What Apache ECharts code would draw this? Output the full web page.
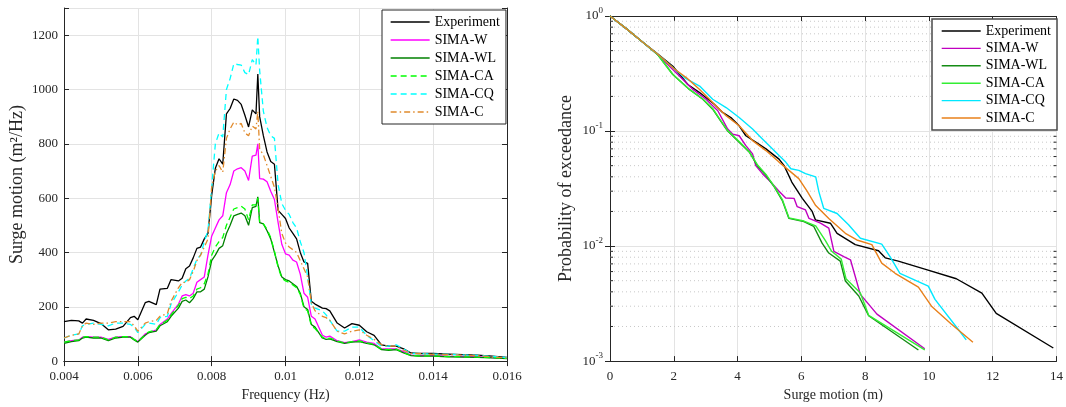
<!DOCTYPE html>
<html>
<head>
<meta charset="utf-8">
<script src="https://cdn.jsdelivr.net/npm/echarts@6/dist/echarts.min.js"></script>
<style>html,body{margin:0;padding:0;background:#fff;}#c{width:1066px;height:407px;}</style>
</head>
<body>
<div id="c"></div>
<script>
// ---------- Left panel: PSD of surge motion ----------
const freq = [0.0040,0.0042,0.0044,0.0045,0.0046,0.0048,0.0050,0.0052,0.0054,0.0056,0.0058,0.0059,0.0060,0.0062,0.0063,0.0065,0.0066,0.0068,0.0069,0.0071,0.0072,0.0073,0.0074,0.0075,0.0076,0.0077,0.0078,0.0079,0.0080,0.0081,0.0082,0.0083,0.0084,0.0085,0.0086,0.0087,0.0088,0.0089,0.0090,0.0091,0.0092,0.00925,0.0093,0.0094,0.0095,0.0096,0.0097,0.0098,0.0099,0.0100,0.0101,0.0102,0.0103,0.0104,0.0105,0.0106,0.0107,0.0108,0.0110,0.0111,0.0112,0.0114,0.0116,0.0118,0.0120,0.0122,0.0124,0.0126,0.0128,0.0130,0.0132,0.0134,0.0136,0.0140,0.0144,0.0148,0.0152,0.0156,0.0160];
const psdExp = [145,150,148,140,155,150,138,115,118,128,160,165,152,215,220,208,265,268,300,295,305,340,350,380,415,420,450,470,610,710,745,725,910,930,965,960,945,905,862,925,910,1057,900,830,770,735,725,555,540,525,490,470,450,400,365,360,220,210,195,193,185,140,122,138,132,108,95,60,55,55,45,30,28,28,26,24,22,18,14];
const psdW = [70,75,78,88,90,88,88,80,88,90,90,80,72,100,105,115,135,155,175,210,240,245,240,250,290,300,310,390,460,490,520,535,620,650,700,708,712,700,665,755,758,800,672,670,660,625,595,510,430,395,390,372,365,320,250,235,165,155,95,88,92,75,68,72,78,70,65,45,45,45,35,22,20,20,18,17,16,13,10];
const psdWL = [65,72,75,85,88,85,85,75,85,88,88,78,70,95,105,110,130,145,165,195,220,225,215,230,255,255,265,310,370,390,415,425,470,500,535,540,545,535,500,565,570,605,510,505,480,450,400,350,310,300,295,285,275,250,200,190,135,125,85,80,82,72,65,70,72,65,60,42,40,42,30,20,18,18,16,15,14,12,9];
const psdCA = [70,75,78,88,90,88,88,78,88,90,90,80,72,98,108,115,135,150,170,205,230,235,230,240,265,270,285,320,390,420,440,455,500,530,560,565,570,560,520,575,575,600,510,505,485,455,405,345,305,295,290,280,270,245,195,185,130,120,88,82,85,74,67,72,74,67,62,44,42,44,32,21,19,19,17,16,15,13,10];
const psdCQ = [85,95,100,130,135,140,135,130,140,140,135,125,105,135,140,135,160,165,210,255,280,295,305,340,375,390,440,480,640,800,840,825,1000,1040,1095,1092,1090,1062,1055,1110,1090,1195,1070,920,860,830,820,650,580,555,540,510,490,440,400,310,210,195,185,170,150,110,110,125,125,95,75,55,55,60,45,28,28,26,25,23,21,17,13];
const psdC = [85,95,100,130,140,135,140,140,145,145,145,130,110,140,145,150,165,175,220,270,290,290,300,330,370,390,420,450,640,700,720,695,820,855,880,870,875,840,830,865,855,920,780,760,720,680,640,560,470,435,420,410,400,370,340,310,215,185,165,160,150,110,100,110,115,95,80,60,55,55,40,28,28,25,24,22,20,15,12];

// ---------- Right panel: probability of exceedance ----------
const expX = [0,0.5,1.0,1.46,1.97,2.44,2.81,3.27,3.53,3.79,4.05,4.26,4.57,4.89,5.30,5.46,5.70,6.03,6.34,6.44,6.91,7.12,7.69,8.42,8.63,9.04,9.87,10.86,11.66,12.11,13.9];
const expP = [1,0.78,0.60,0.477,0.366,0.254,0.216,0.171,0.145,0.131,0.111,0.091,0.080,0.070,0.057,0.050,0.036,0.026,0.020,0.0169,0.0158,0.0129,0.0103,0.0091,0.0079,0.0074,0.0063,0.0052,0.0039,0.0026,0.0013];
const wX = [0,0.5,1.0,1.5,2.08,2.6,3.01,3.38,3.69,3.85,4.05,4.26,4.47,4.57,4.78,5.04,5.30,5.51,5.77,5.87,6.13,6.24,6.60,6.86,7.02,7.33,7.54,7.85,8.37,9.87];
const wP = [1,0.78,0.60,0.46,0.32,0.23,0.189,0.150,0.104,0.094,0.091,0.0747,0.0633,0.050,0.0426,0.036,0.030,0.0262,0.026,0.022,0.0206,0.0174,0.0158,0.0143,0.009,0.0081,0.0076,0.0038,0.00256,0.00128];
const wlX = [0,0.5,1.0,1.5,1.97,2.49,2.91,3.22,3.43,3.69,4.05,4.37,4.62,4.89,5.15,5.40,5.61,6.08,6.39,6.65,6.86,7.22,7.38,7.80,8.11,9.67];
const wlP = [1,0.78,0.60,0.46,0.31,0.23,0.189,0.155,0.127,0.10,0.080,0.0655,0.050,0.0412,0.0327,0.025,0.0174,0.0163,0.0148,0.0106,0.0087,0.0074,0.00497,0.00368,0.00248,0.00125];
const caX = [0,0.5,1.0,1.5,1.97,2.49,2.91,3.22,3.43,3.69,4.05,4.37,4.62,4.89,5.15,5.40,5.61,6.08,6.45,6.75,6.95,7.25,7.40,7.85,8.11,9.87];
const caP = [1,0.78,0.60,0.46,0.31,0.23,0.19,0.157,0.128,0.101,0.081,0.066,0.051,0.042,0.033,0.0255,0.0176,0.0165,0.0150,0.0112,0.0090,0.0077,0.0052,0.0039,0.0025,0.00125];
const cqX = [0,0.5,1.0,1.5,2.0,2.34,2.81,3.22,3.64,4.05,4.47,4.78,5.09,5.30,5.51,5.67,5.92,6.13,6.45,6.55,6.70,7.12,7.48,7.85,8.52,8.78,9.09,9.98,10.19,10.91,11.17];
const cqP = [1,0.78,0.60,0.465,0.35,0.29,0.246,0.189,0.160,0.131,0.104,0.0853,0.070,0.0612,0.0537,0.047,0.0455,0.0426,0.040,0.0296,0.0213,0.0192,0.0153,0.0117,0.0104,0.0081,0.0058,0.00449,0.00344,0.0019,0.00153];
const cX = [0,0.5,1.0,1.5,2.0,2.4,2.81,3.22,3.64,4.05,4.47,4.89,5.30,5.61,5.92,6.18,6.45,6.86,7.38,7.74,8.21,8.52,8.94,9.67,10.08,10.7,11.38];
const cP = [1,0.78,0.60,0.465,0.35,0.29,0.23,0.177,0.136,0.111,0.0826,0.0676,0.0537,0.0455,0.0386,0.0300,0.0225,0.0174,0.0129,0.0113,0.0103,0.0071,0.0058,0.0044,0.0030,0.0021,0.00146];
const minorP = [0.002,0.003,0.004,0.005,0.006,0.007,0.008,0.009,0.02,0.03,0.04,0.05,0.06,0.07,0.08,0.09,0.2,0.3,0.4,0.5,0.6,0.7,0.8,0.9];

const seriesNames = ['Experiment','SIMA-W','SIMA-WL','SIMA-CA','SIMA-CQ','SIMA-C'];

const FONT = 'Liberation Serif';
const TXT = '#262626';
const chart = echarts.init(document.getElementById('c'), null, {renderer: 'canvas'});

const pair = (xs, ys) => xs.map((x, i) => [x, ys[i]]);
const leftStyles = [
  {c:'#000000', t:'solid', w:1.3},
  {c:'#ff00ff', t:'solid', w:1.3},
  {c:'#008000', t:'solid', w:1.3},
  {c:'#00ff00', t:[6,4], w:1.3},
  {c:'#00ffff', t:[6,4], w:1.3},
  {c:'#e08a2c', t:[6,3,1.5,3], w:1.3}
];
const rightStyles = [
  {c:'#000000'}, {c:'#c000c0'}, {c:'#158c15'}, {c:'#33ee33'}, {c:'#00e8ff'}, {c:'#e8801a'}
];
const leftData = [psdExp, psdW, psdWL, psdCA, psdCQ, psdC];
const rightData = [[expX,expP],[wX,wP],[wlX,wlP],[caX,caP],[cqX,cqP],[cX,cP]];

const series = [];
seriesNames.forEach((n, i) => {
  series.push({
    name: n, type: 'line', xAxisIndex: 0, yAxisIndex: 0,
    data: pair(freq, leftData[i]), showSymbol: false, symbol: 'none',
    lineStyle: {color: leftStyles[i].c, width: leftStyles[i].w, type: leftStyles[i].t},
    itemStyle: {color: leftStyles[i].c}, z: 3, animation: false
  });
});
seriesNames.forEach((n, i) => {
  series.push({
    name: n, type: 'line', xAxisIndex: 2, yAxisIndex: 2,
    data: pair(rightData[i][0], rightData[i][1]), showSymbol: false, symbol: 'none',
    lineStyle: {color: rightStyles[i].c, width: 1.4, type: 'solid'},
    itemStyle: {color: rightStyles[i].c}, z: 3, animation: false
  });
});
// minor log grid lines and minor ticks on right panel
series.push({
  type: 'custom', xAxisIndex: 2, yAxisIndex: 2, silent: true, z: 1, animation: false,
  data: minorP.map(v => [0, v]),
  renderItem: (params, api) => {
    const v = api.value(1);
    const p0 = api.coord([0, v]);
    const p1 = api.coord([14, v]);
    return {type: 'group', children: [
      {type: 'line', shape: {x1: p0[0], y1: p0[1], x2: p1[0], y2: p1[1]}, style: {stroke: '#c8c8c8', lineWidth: 1, lineDash: [1, 3]}},
      {type: 'line', shape: {x1: p0[0], y1: p0[1], x2: p0[0] + 3, y2: p0[1]}, style: {stroke: TXT, lineWidth: 1}},
      {type: 'line', shape: {x1: p1[0] - 3, y1: p1[1], x2: p1[0], y2: p1[1]}, style: {stroke: TXT, lineWidth: 1}}
    ]};
  }
});

const axLine = {show: true, lineStyle: {color: TXT, width: 1}};
const tickIn = {show: true, inside: true, length: 5, lineStyle: {color: TXT}};
const lbl = {color: TXT, fontFamily: FONT, fontSize: 13};
const grid = {show: true, lineStyle: {color: '#e3e3e3', width: 1}};

const option = {
  backgroundColor: '#fff',
  animation: false,
  grid: [
    {left: 64, top: 8, width: 443, height: 355},
    {left: 610, top: 16, width: 448, height: 348}
  ],
  xAxis: [
    {type: 'value', gridIndex: 0, min: 0.004, max: 0.016, interval: 0.002,
     axisLine: axLine, axisTick: tickIn, splitLine: grid,
     axisLabel: Object.assign({}, lbl, {margin: 9, formatter: v => String(Number(v.toFixed(3)))}),
     name: 'Frequency (Hz)', nameLocation: 'middle', nameGap: 26,
     nameTextStyle: {color: TXT, fontFamily: FONT, fontSize: 14}},
    {type: 'value', gridIndex: 0, position: 'top', min: 0.004, max: 0.016, interval: 0.002,
     axisLine: axLine, axisTick: tickIn, splitLine: {show: false}, axisLabel: {show: false}},
    {type: 'value', gridIndex: 1, min: 0, max: 14, interval: 2,
     axisLine: axLine, axisTick: tickIn, splitLine: grid,
     axisLabel: Object.assign({}, lbl, {margin: 9}),
     name: 'Surge motion (m)', nameLocation: 'middle', nameGap: 26,
     nameTextStyle: {color: TXT, fontFamily: FONT, fontSize: 14}},
    {type: 'value', gridIndex: 1, position: 'top', min: 0, max: 14, interval: 2,
     axisLine: axLine, axisTick: tickIn, splitLine: {show: false}, axisLabel: {show: false}}
  ],
  yAxis: [
    {type: 'value', gridIndex: 0, min: 0, max: 1300, interval: 200,
     axisLine: axLine, axisTick: tickIn, splitLine: grid,
     axisLabel: Object.assign({}, lbl, {margin: 6, formatter: v => (v > 1250 ? '' : String(v))}),
     name: 'Surge motion (m²/Hz)', nameLocation: 'middle', nameGap: 38,
     nameTextStyle: {color: TXT, fontFamily: FONT, fontSize: 18}},
    {type: 'value', gridIndex: 0, position: 'right', min: 0, max: 1300, interval: 200,
     axisLine: axLine, axisTick: tickIn, splitLine: {show: false}, axisLabel: {show: false}},
    {type: 'log', gridIndex: 1, min: 0.001, max: 1, logBase: 10,
     axisLine: axLine, axisTick: tickIn, splitLine: grid,
     axisLabel: {color: TXT, fontFamily: FONT, margin: 7,
       formatter: v => '{b|10}{s|' + Math.round(Math.log10(v)) + '}',
       rich: {b: {fontFamily: FONT, fontSize: 13, color: TXT, lineHeight: 20, verticalAlign: 'middle'},
              s: {fontFamily: FONT, fontSize: 9, color: TXT, verticalAlign: 'top'}}},
     name: 'Probability of exceedance', nameLocation: 'middle', nameGap: 35,
     nameTextStyle: {color: TXT, fontFamily: FONT, fontSize: 18}},
    {type: 'log', gridIndex: 1, position: 'right', min: 0.001, max: 1, logBase: 10,
     axisLine: axLine, axisTick: tickIn, splitLine: {show: false}, axisLabel: {show: false}}
  ],
  legend: [
    {left: 382, top: 10, orient: 'vertical', itemWidth: 39, itemHeight: 14, itemGap: 4,
     padding: [5, 6, 5, 8], backgroundColor: '#fff', borderColor: TXT, borderWidth: 1,
     textStyle: {color: '#000', fontFamily: FONT, fontSize: 14},
     selectedMode: false,
     itemStyle: {opacity: 0, borderWidth: 0},
     data: seriesNames.map((n, i) => ({name: n,
       lineStyle: {color: leftStyles[i].c, type: leftStyles[i].t, width: 1.3},
       itemStyle: {opacity: 0, borderWidth: 0}}))
    },
    {left: 932, top: 19, orient: 'vertical', itemWidth: 39, itemHeight: 14, itemGap: 3.4,
     padding: [5, 6, 5, 9], backgroundColor: '#fff', borderColor: '#4a4a4a', borderWidth: 1.5,
     textStyle: {color: '#000', fontFamily: FONT, fontSize: 14},
     selectedMode: false,
     itemStyle: {opacity: 0, borderWidth: 0},
     data: seriesNames.map((n, i) => ({name: n,
       lineStyle: {color: rightStyles[i].c, type: 'solid', width: 1.4},
       itemStyle: {opacity: 0, borderWidth: 0}}))
    }
  ],
  series: series
};
chart.setOption(option);
</script>
</body>
</html>
